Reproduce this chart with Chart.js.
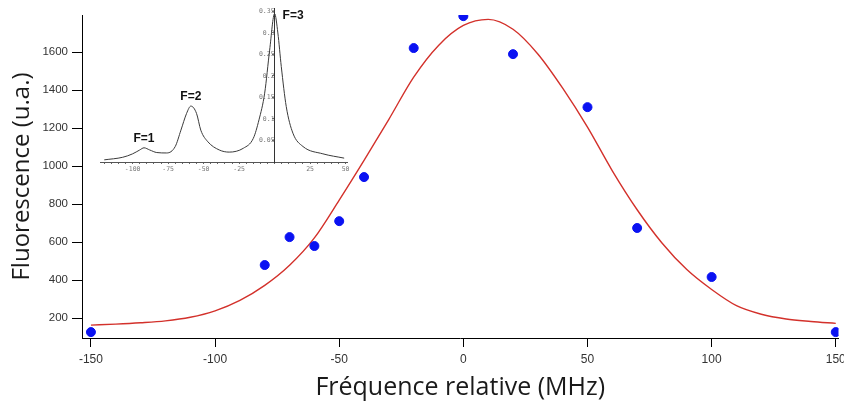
<!DOCTYPE html>
<html lang="fr">
<head>
    <meta charset="UTF-8">
    <title>Fluorescence</title>
    <script src="https://cdn.jsdelivr.net/npm/chart.js"></script>
    <style>
        body { margin: 0; background: #fff; }
        #wrap { position: relative; width: 844px; height: 403px; }
        #mainChart { position: absolute; left: 0; top: 0; }
        #insetChart { position: absolute; left: 95px; top: 0; }
    </style>
</head>

<body>
    <div id="wrap">
        <canvas id="mainChart" width="844" height="403"></canvas>
        <canvas id="insetChart" width="262" height="176"></canvas>
    </div>

    <script>
        // points mesurés
        const freqMeasured = [-150, -80, -70, -60, -50, -40, -20, 0, 20, 50, 70, 100, 150];
        const fluoMeasured = [126, 479, 626, 579, 710, 942, 1621, 1789, 1589, 1310, 674, 416, 126];

        // courbe d'ajustement
        const fitFreq = [-150, -140, -130, -120, -110, -100, -90, -80, -70, -60, -50, -40, -30, -20, -10, 0,
                         10, 20, 30, 40, 50, 60, 70, 80, 90, 100, 110, 120, 130, 140, 150];
        const fitFluo = [163, 168, 175, 185, 204, 238, 293, 372, 478, 622, 821, 1030, 1246, 1468, 1635, 1740,
                         1772, 1720, 1590, 1410, 1205, 975, 770, 595, 455, 350, 265, 220, 195, 182, 172];

        const xTicks = [-150, -100, -50, 0, 50, 100, 150];
        const yTicks = [200, 400, 600, 800, 1000, 1200, 1400, 1600];

        // encart : spectre théorique
        const insetFreq = [-120, -107, -100, -95, -92, -88, -83, -76, -70, -66, -62, -59, -55, -52, -47, -39,
                           -32, -22, -15, -11, -7, -3.5, 0, 2.3, 4.7, 8.2, 12.9, 20, 34, 49];
        const insetSignal = [0.005, 0.011, 0.019, 0.028, 0.033, 0.028, 0.022, 0.021, 0.036, 0.074, 0.113, 0.130,
                             0.113, 0.074, 0.047, 0.028, 0.023, 0.032, 0.055, 0.098, 0.16, 0.26, 0.345, 0.30,
                             0.222, 0.129, 0.067, 0.036, 0.019, 0.009];
        const peakNames = ['F=1', 'F=2', 'F=3'];
        const peakFreq = [-92, -59, 0];

        const ctx = document.getElementById('mainChart').getContext('2d');
        const mainChart = new Chart(ctx, {
            type: 'scatter',
            data: {
                datasets: [
                    {
                        label: 'mesures',
                        data: freqMeasured.map((f, i) => ({ x: f, y: fluoMeasured[i] })),
                        backgroundColor: '#0a12f2',
                        borderColor: '#0a12f2',
                        pointRadius: 4.5,
                    },
                    {
                        label: 'ajustement',
                        data: fitFreq.map((f, i) => ({ x: f, y: fitFluo[i] })),
                        showLine: true,
                        borderColor: '#d3312b',
                        borderWidth: 1.4,
                        pointRadius: 0,
                        tension: 0.4,
                        cubicInterpolationMode: 'monotone',
                    },
                ],
            },
            options: {
                responsive: false,
                animation: false,
                devicePixelRatio: 1,
                layout: { padding: { top: 15, left: 0, right: 0, bottom: 0 } },
                plugins: { legend: { display: false }, tooltip: { enabled: false } },
                scales: {
                    x: {
                        type: 'linear',
                        min: -153.6,
                        max: 151.1,
                        afterBuildTicks: s => { s.ticks = xTicks.map(v => ({ value: v })); },
                        afterFit: s => { s.height = 65; s.paddingLeft = 0; s.paddingRight = 0; },
                        ticks: { color: '#333', font: { family: 'Liberation Sans', size: 12 }, padding: 5, maxRotation: 0 },
                        grid: { drawOnChartArea: false, tickLength: 9, color: '#000' },
                        border: { color: '#000', width: 1 },
                        title: {
                            display: true,
                            text: 'Fréquence relative (MHz)',
                            color: '#1a1a1a',
                            font: { family: 'Open Sans', size: 25 },
                            padding: { top: 0, bottom: 0 },
                        },
                    },
                    y: {
                        min: 95,
                        max: 1795,
                        afterBuildTicks: s => { s.ticks = yTicks.map(v => ({ value: v })); },
                        afterFit: s => { s.width = 82; s.paddingTop = 0; s.paddingBottom = 0; },
                        ticks: {
                            color: '#333',
                            font: { family: 'Liberation Sans', size: 11.5 },
                            padding: 4,
                            callback: v => String(v),
                        },
                        grid: { drawOnChartArea: false, tickLength: 10, color: '#000' },
                        border: { color: '#000', width: 1 },
                        title: {
                            display: true,
                            text: 'Fluorescence (u.a.)',
                            color: '#1a1a1a',
                            font: { family: 'Open Sans', size: 24 },
                            padding: { top: 8, bottom: 0 },
                        },
                    },
                },
            },
        });

        // étiquettes des pics de l'encart
        const peakLabels = {
            id: 'peakLabels',
            afterDatasetsDraw(chart) {
                const c = chart.ctx;
                const xs = chart.scales.x, ys = chart.scales.y;
                c.save();
                c.font = 'bold 12px "Liberation Sans", Arial, sans-serif';
                c.fillStyle = '#111';
                peakNames.forEach((name, i) => {
                    const k = insetFreq.indexOf(peakFreq[i]);
                    const px = xs.getPixelForValue(peakFreq[i]);
                    const py = ys.getPixelForValue(insetSignal[k]);
                    if (i === peakNames.length - 1) {
                        c.textAlign = 'left';
                        c.textBaseline = 'middle';
                        c.fillText(name, px + 8, py + 2);
                    } else {
                        c.textAlign = 'center';
                        c.textBaseline = 'bottom';
                        c.fillText(name, px, py - 3);
                    }
                });
                c.restore();
            },
        };

        const ctx2 = document.getElementById('insetChart').getContext('2d');
        const insetChart = new Chart(ctx2, {
            type: 'scatter',
            data: {
                datasets: [{
                    label: 'spectre',
                    data: insetFreq.map((f, i) => ({ x: f, y: insetSignal[i] })),
                    showLine: true,
                    borderColor: '#3a3a3a',
                    borderWidth: 1,
                    pointRadius: 0,
                    tension: 0.4,
                    cubicInterpolationMode: 'monotone',
                }],
            },
            options: {
                responsive: false,
                animation: false,
                devicePixelRatio: 1,
                layout: { padding: { top: 8, left: 5, right: 10, bottom: 0 } },
                plugins: { legend: { display: false }, tooltip: { enabled: false } },
                scales: {
                    x: {
                        type: 'linear',
                        min: -123,
                        max: 51,
                        afterFit: s => { s.height = 14; s.paddingLeft = 0; s.paddingRight = 0; },
                        ticks: {
                            stepSize: 5,
                            autoSkip: false,
                            maxRotation: 0,
                            includeBounds: false,
                            padding: 1,
                            color: '#777',
                            font: { family: 'DejaVu Sans Mono', size: 6.5 },
                            callback: v => (Math.round(v) % 25 === 0 && Math.round(v) !== 0) ? String(Math.round(v)) : '',
                        },
                        grid: { drawOnChartArea: false, tickLength: 2, color: '#666' },
                        border: { color: '#555', width: 1 },
                    },
                    y: {
                        position: { x: 0 },
                        min: 0,
                        max: 0.358,
                        ticks: {
                            stepSize: 0.05,
                            includeBounds: false,
                            padding: 1,
                            color: '#777',
                            font: { family: 'DejaVu Sans Mono', size: 6.5 },
                            callback: v => v === 0 ? '' : String(+v.toFixed(2)),
                        },
                        grid: { drawOnChartArea: false, tickLength: 2, color: '#666' },
                        border: { color: '#333', width: 1 },
                    },
                },
            },
            plugins: [peakLabels],
        });
    </script>
</body>
</html>
